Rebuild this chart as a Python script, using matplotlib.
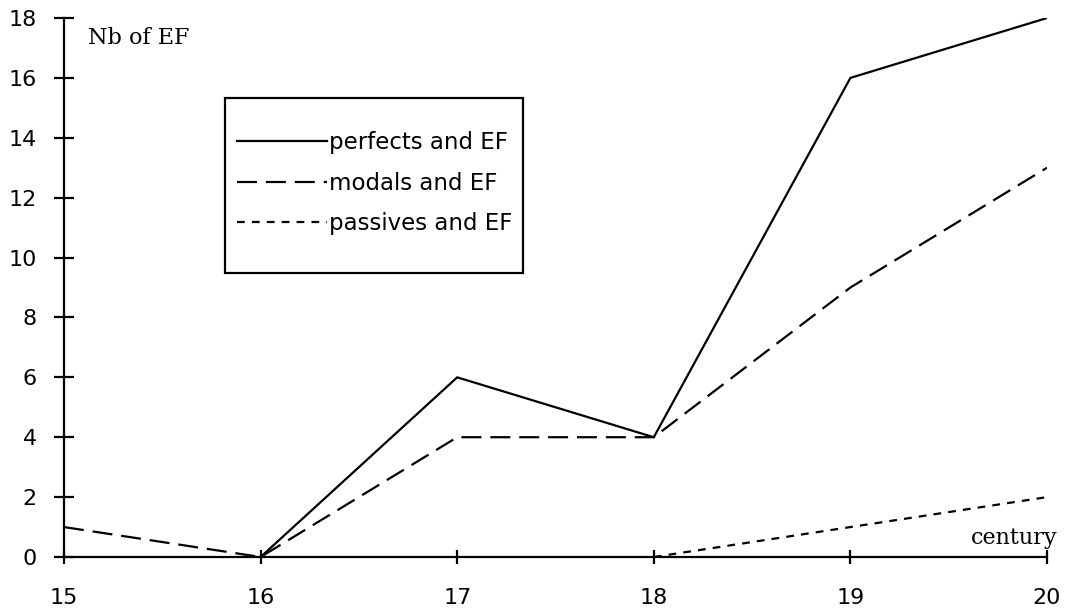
import matplotlib
matplotlib.use("Agg")
import matplotlib.pyplot as plt
from matplotlib.patches import Rectangle

century_perf = [16, 17, 18, 19, 20]
perfects = [0, 6, 4, 16, 18]
century_mod = [15, 16, 17, 18, 19, 20]
modals = [1, 0, 4, 4, 9, 13]
century_pass = [18, 19, 20]
passives = [0, 1, 2]
xticks = [15, 16, 17, 18, 19, 20]
yticks = [0, 2, 4, 6, 8, 10, 12, 14, 16, 18]

W, H = 1068, 616
fig = plt.figure(figsize=(W / 100, H / 100), dpi=100)
ax = fig.add_axes([64 / W, 1 - 557 / H, (1047 - 64) / W, (557 - 18) / H])

ax.plot(century_perf, perfects, color="black", lw=1.6, label="perfects and EF")
ax.plot(century_mod, modals, color="black", lw=1.6, dashes=(9, 4), label="modals and EF")
ax.plot(century_pass, passives, color="black", lw=1.6, dashes=(3.5, 3.2), label="passives and EF")

ax.set_xlim(15, 20)
ax.set_ylim(0, 18)
ax.set_xticks(xticks)
ax.set_yticks(yticks)
for s in ["top", "right"]:
    ax.spines[s].set_visible(False)
for s in ["left", "bottom"]:
    ax.spines[s].set_linewidth(1.6)
ax.tick_params(axis="y", direction="inout", length=14, width=1.6,
               labelsize=16, pad=12.5)
ax.tick_params(axis="x", direction="inout", length=10, width=1.6,
               labelsize=16, pad=17)
for lab in ax.get_xticklabels() + ax.get_yticklabels():
    lab.set_family("DejaVu Sans")

fig.text(88 / W, 1 - 38 / H, "Nb of EF", family="DejaVu Serif",
         fontsize=16, va="center", ha="left")
fig.text(1057 / W, 1 - 538 / H, "century", family="DejaVu Serif",
         fontsize=16, va="center", ha="right")

box = Rectangle((225 / W, 1 - 273 / H), (523 - 225) / W, (273 - 98) / H,
                transform=fig.transFigure, facecolor="white", edgecolor="black",
                lw=1.6, zorder=4)
ax.add_patch(box)
box.set_clip_on(False)

leg = ax.legend(loc="upper left", bbox_to_anchor=(237 / W, 1 - 131 / H),
                bbox_transform=fig.transFigure, frameon=False,
                handlelength=3.93, handletextpad=0.1, borderpad=0.0,
                borderaxespad=0.0, labelspacing=0.77,
                prop={"family": "DejaVu Sans", "size": 16.5})
leg.set_zorder(5)

fig.savefig("out.png", dpi=100)
